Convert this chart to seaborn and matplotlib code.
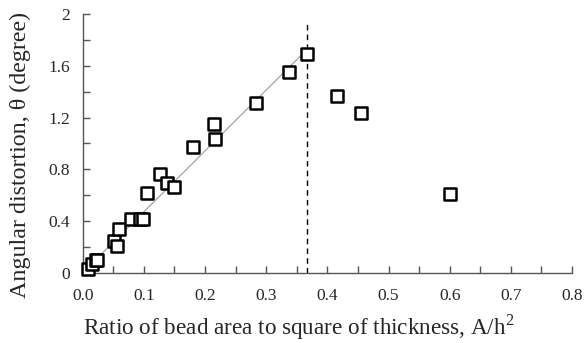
import matplotlib
matplotlib.use("Agg")
import matplotlib.pyplot as plt
import seaborn as sns
import pandas as pd
from matplotlib.ticker import MultipleLocator, FuncFormatter

ratio = [0.009, 0.0147, 0.0217, 0.024, 0.0511, 0.0555, 0.0598, 0.0784, 0.093, 0.098,
         0.1056, 0.1263, 0.138, 0.149, 0.181, 0.2146, 0.2157, 0.283, 0.337, 0.366,
         0.415, 0.455, 0.601]
distortion = [0.026, 0.067, 0.098, 0.10, 0.248, 0.206, 0.340, 0.413, 0.413, 0.413,
              0.619, 0.763, 0.696, 0.660, 0.970, 1.150, 1.032, 1.31, 1.552, 1.689,
              1.369, 1.233, 0.606]
fit_x = [0.0, 0.367]
fit_y = [0.0, 1.728]
limit_x = 0.367

sns.set_style("ticks")
plt.rcParams['font.family'] = ['Liberation Serif', 'DejaVu Serif']
plt.rcParams['mathtext.fontset'] = 'custom'
plt.rcParams['mathtext.rm'] = 'Liberation Serif'

fig = plt.figure(figsize=(5.87, 3.43), dpi=100)
ax = fig.add_axes([0.1409, 0.205, 0.8336, 0.754])

df = pd.DataFrame({"x": ratio, "y": distortion})
fit = pd.DataFrame({"x": fit_x, "y": fit_y})
sns.lineplot(data=fit, x="x", y="y", ax=ax, color="#9a9a9a", linewidth=0.8, zorder=1)
ax.axvline(limit_x, ymin=0, ymax=0.96, color="black",
           linestyle=(0, (4, 3)), linewidth=1.0, zorder=2)
sns.scatterplot(data=df, x="x", y="y", ax=ax, marker="s", s=80, facecolor="white",
                edgecolor="black", linewidth=1.8, zorder=3, clip_on=False)

ax.set_xlim(0, 0.8)
ax.set_ylim(0, 2)
ax.xaxis.set_major_locator(MultipleLocator(0.1))
ax.xaxis.set_minor_locator(MultipleLocator(0.05))
ax.yaxis.set_major_locator(MultipleLocator(0.4))
ax.yaxis.set_minor_locator(MultipleLocator(0.2))
ax.yaxis.set_major_formatter(FuncFormatter(lambda v, p: f"{v:g}"))
ax.xaxis.set_major_formatter(FuncFormatter(lambda v, p: f"{v:.1f}"))

for sp in ["top", "right"]:
    ax.spines[sp].set_visible(False)
for sp in ["left", "bottom"]:
    ax.spines[sp].set_color("#555555")
    ax.spines[sp].set_linewidth(1.0)
ax.tick_params(which="both", direction="in", color="#555555", width=1.0, labelsize=12.5)
ax.tick_params(which="both", length=5)
ax.tick_params(axis="x", pad=11)
ax.tick_params(axis="y", pad=9)

ax.set_xlabel("Ratio of bead area to square of thickness, A/h$^\\mathrm{2}$", fontsize=16.7)
ax.set_ylabel("Angular distortion, θ (degree)", fontsize=17.3, va="center")
ax.xaxis.set_label_coords(0.442, -0.155)
ax.yaxis.set_label_coords(-0.128, 0.455)

fig.savefig("out.png", dpi=100)
